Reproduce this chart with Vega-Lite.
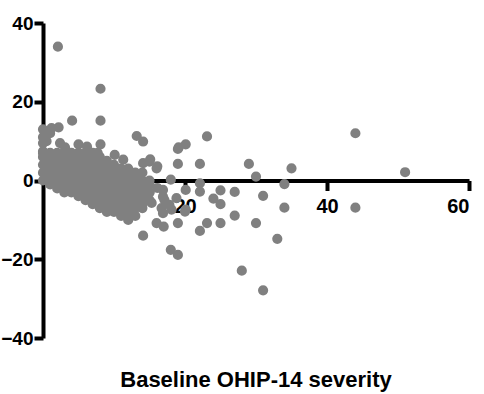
{
  "$schema": "https://vega.github.io/schema/vega-lite/v6.json",
  "width": 426,
  "height": 315,
  "autosize": {"type": "none"},
  "padding": {"left": 43, "top": 23, "right": 15, "bottom": 56},
  "background": "white",
  "config": {
    "view": {"stroke": null},
    "axis": {
      "domainColor": "black",
      "domainWidth": 4,
      "tickColor": "black",
      "tickWidth": 4,
      "tickSize": 10,
      "labelFont": "Liberation Sans",
      "labelFontWeight": "bold",
      "labelFontSize": 20,
      "labelColor": "black",
      "grid": false,
      "title": null
    }
  },
  "title": {
    "text": "Baseline OHIP-14 severity",
    "orient": "bottom",
    "anchor": "middle",
    "font": "Liberation Sans",
    "fontWeight": "bold",
    "fontSize": 22,
    "color": "black",
    "offset": 22
  },
  "data": {
    "values": [
      {"x":0,"y":0},{"x":0,"y":2},{"x":0,"y":4},{"x":0,"y":6},{"x":0,"y":7},
      {"x":1,"y":-1},{"x":1,"y":1},{"x":1,"y":3},{"x":1,"y":5},{"x":1,"y":7},
      {"x":2,"y":-2},{"x":2,"y":0},{"x":2,"y":2},{"x":2,"y":4},{"x":2,"y":6},{"x":2,"y":7},
      {"x":3,"y":-3},{"x":3,"y":-1},{"x":3,"y":1},{"x":3,"y":3},{"x":3,"y":5},{"x":3,"y":7},
      {"x":4,"y":-3},{"x":4,"y":-2},{"x":4,"y":0},{"x":4,"y":2},{"x":4,"y":4},{"x":4,"y":6},{"x":4,"y":7},
      {"x":5,"y":-4},{"x":5,"y":-3},{"x":5,"y":-1},{"x":5,"y":1},{"x":5,"y":3},{"x":5,"y":5},{"x":5,"y":7},
      {"x":6,"y":-5},{"x":6,"y":-4},{"x":6,"y":-2},{"x":6,"y":0},{"x":6,"y":2},{"x":6,"y":4},{"x":6,"y":6},{"x":6,"y":7},
      {"x":7,"y":-6},{"x":7,"y":-5},{"x":7,"y":-3},{"x":7,"y":-1},{"x":7,"y":1},{"x":7,"y":3},{"x":7,"y":5},{"x":7,"y":7},
      {"x":8,"y":-7},{"x":8,"y":-6},{"x":8,"y":-4},{"x":8,"y":-2},{"x":8,"y":0},{"x":8,"y":2},{"x":8,"y":4},{"x":8,"y":6},
      {"x":9,"y":-8},{"x":9,"y":-7},{"x":9,"y":-5},{"x":9,"y":-3},{"x":9,"y":-1},{"x":9,"y":1},{"x":9,"y":3},{"x":9,"y":5},
      {"x":10,"y":-8},{"x":10,"y":-6},{"x":10,"y":-4},{"x":10,"y":-2},{"x":10,"y":0},{"x":10,"y":2},{"x":10,"y":4},
      {"x":11,"y":-9},{"x":11,"y":-7},{"x":11,"y":-5},{"x":11,"y":-3},{"x":11,"y":-1},{"x":11,"y":1},{"x":11,"y":3},
      {"x":12,"y":-10},{"x":12,"y":-8},{"x":12,"y":-6},{"x":12,"y":-4},{"x":12,"y":-2},{"x":12,"y":0},{"x":12,"y":2},{"x":12,"y":3},
      {"x":13,"y":-9},{"x":13,"y":-7},{"x":13,"y":-5},{"x":13,"y":-3},{"x":13,"y":-1},{"x":13,"y":1},{"x":13,"y":2},
      {"x":14,"y":-7},{"x":14,"y":-6},{"x":14,"y":-4},{"x":14,"y":-2},{"x":14,"y":0},{"x":14,"y":2},
      {"x":15,"y":-5},{"x":15,"y":-3},{"x":15,"y":-1},{"x":15,"y":0},
      {"x":2.1,"y":34.0},{"x":8.1,"y":23.3},{"x":4.1,"y":15.2},{"x":8.1,"y":15.2},
      {"x":0,"y":13.0},{"x":1.2,"y":13.3},{"x":2.2,"y":13.5},{"x":1,"y":12},{"x":0,"y":11},{"x":0.5,"y":10},
      {"x":13.2,"y":11.3},{"x":14.1,"y":9.9},{"x":8.1,"y":9.2},{"x":5.0,"y":9.2},{"x":6.2,"y":8.6},{"x":3.1,"y":8.4},
      {"x":0,"y":9.5},{"x":2.4,"y":9.5},{"x":0,"y":7.4},{"x":10.1,"y":6.5},{"x":11.3,"y":5.3},{"x":15.1,"y":5.4},
      {"x":16.1,"y":3.6},{"x":14.1,"y":4.4},{"x":7.7,"y":7.0},
      {"x":44,"y":12.0},{"x":51,"y":2.1},{"x":44,"y":-6.9},{"x":35,"y":3.1},{"x":34,"y":-0.9},{"x":34,"y":-6.9},
      {"x":33,"y":-14.8},{"x":31,"y":-27.9},{"x":28,"y":-22.9},{"x":29,"y":4.2},{"x":30,"y":1.0},{"x":31,"y":-3.9},
      {"x":30,"y":-10.8},{"x":27,"y":-2.9},{"x":27,"y":-8.9},{"x":25,"y":-2.5},{"x":25,"y":-6.0},{"x":24,"y":-4.6},
      {"x":25,"y":-10.8},{"x":23.1,"y":-10.8},{"x":22.1,"y":-12.8},{"x":23.1,"y":11.2},{"x":20.1,"y":9.2},{"x":19,"y":8.0},
      {"x":19,"y":4.2},{"x":22.1,"y":4.2},{"x":22.1,"y":-0.7},{"x":22.1,"y":-2.8},{"x":20.1,"y":-2.4},{"x":20.1,"y":-7.4},
      {"x":19,"y":-10.8},{"x":18,"y":-17.6},{"x":19,"y":-18.9},{"x":18,"y":0.2},{"x":17,"y":-11.7},{"x":16,"y":-10.8},
      {"x":16,"y":3.1},{"x":15,"y":4.8},{"x":16.1,"y":-1.9},{"x":17.1,"y":-4.9},{"x":15.3,"y":-5.7},{"x":14.1,"y":-14.0},
      {"x":16.9,"y":-4.1},{"x":17.8,"y":-6.2},{"x":16.9,"y":-8.3},{"x":18.1,"y":-7.4},{"x":20,"y":-7.9},{"x":16.7,"y":-7.0},
      {"x":18.8,"y":-4.5},{"x":16.9,"y":-2.4},{"x":15,"y":-3},{"x":19.1,"y":8.4}
    ]
  },
  "mark": {"type": "circle", "size": 104, "color": "#808080", "opacity": 1},
  "encoding": {
    "x": {
      "field": "x",
      "type": "quantitative",
      "scale": {"domain": [0, 60], "nice": false, "zero": false},
      "axis": {"values": [20, 40, 60], "offset": -157.5, "labelPadding": 6}
    },
    "y": {
      "field": "y",
      "type": "quantitative",
      "scale": {"domain": [-40, 40], "nice": false},
      "axis": {"values": [-40, -20, 0, 20, 40], "labelPadding": 1, "tickSize": 9, "labelFontSize": 19}
    }
  }
}
